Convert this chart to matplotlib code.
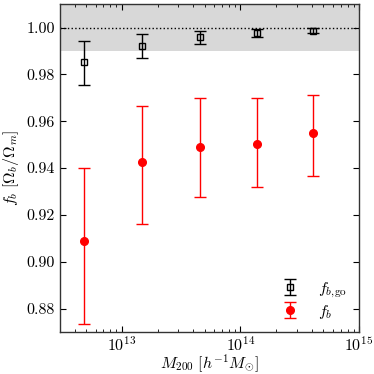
import matplotlib
matplotlib.use("Agg")
import matplotlib.pyplot as plt
from matplotlib.ticker import FixedLocator, LogLocator, NullLocator

plt.rcParams['font.family'] = ['cmr10', 'DejaVu Serif']
plt.rcParams['mathtext.fontset'] = 'cm'
plt.rcParams['axes.formatter.use_mathtext'] = True
plt.rcParams['font.size'] = 11.5

mass = [4.77e12, 1.49e13, 4.6e13, 1.37e14, 4.1e14]

fb_go = [0.9852, 0.9923, 0.9958, 0.9976, 0.9985]
fb_go_hi = [0.9944, 0.9972, 0.9985, 0.9993, 0.9996]
fb_go_lo = [0.9754, 0.9868, 0.9928, 0.9961, 0.9976]

fb = [0.9087, 0.9424, 0.9492, 0.9504, 0.9548]
fb_hi = [0.9399, 0.9665, 0.9699, 0.9699, 0.9710]
fb_lo = [0.8736, 0.9161, 0.9276, 0.9318, 0.9365]

yticks = [0.88, 0.90, 0.92, 0.94, 0.96, 0.98, 1.00]

fig = plt.figure(figsize=(3.74, 3.74), dpi=100)
ax = fig.add_axes([0.160, 0.112, 0.800, 0.877])

ax.axhspan(0.99, 1.01, color='#d8d8d8', lw=0, zorder=0)
ax.axhline(1.0, color='black', ls=':', lw=1.0, zorder=1)

go_err = [[v - l for v, l in zip(fb_go, fb_go_lo)], [h - v for v, h in zip(fb_go, fb_go_hi)]]
f_err = [[v - l for v, l in zip(fb, fb_lo)], [h - v for v, h in zip(fb, fb_hi)]]

ax.errorbar(mass, fb_go, yerr=go_err, fmt='s', mfc='none', mec='black', ms=5,
            mew=1.0, ecolor='black', elinewidth=1.0, capsize=4.5, capthick=1.0,
            label=r'$f_{b,\!\mathrm{go}}$', zorder=3)
ax.errorbar(mass, fb, yerr=f_err, fmt='o', color='red', ms=5.5,
            ecolor='red', elinewidth=1.0, capsize=4.5, capthick=1.0,
            label=r'$f_b$', zorder=3)

ax.set_xscale('log')
ax.set_xlim(3e12, 1e15)
ax.set_ylim(0.87, 1.01)
ax.yaxis.set_major_locator(FixedLocator(yticks))
ax.yaxis.set_minor_locator(NullLocator())
ax.set_yticklabels(['%.2f' % t for t in yticks])
ax.xaxis.set_major_locator(LogLocator(base=10, numticks=10))
ax.xaxis.set_minor_locator(LogLocator(base=10, subs=range(2, 10), numticks=20))

ax.tick_params(which='both', direction='in', top=True, right=True, colors='black')
ax.tick_params(which='major', length=4, width=0.8)
ax.tick_params(which='minor', length=2, width=0.6)
ax.tick_params(axis='x', which='major', pad=2)
ax.tick_params(axis='y', which='major', pad=3.5)
for s in ax.spines.values():
    s.set_color('#333333')
    s.set_linewidth(1.0)

ax.set_xlabel(r'$M_{200}\ [h^{-1}M_{\odot}]$', labelpad=-1)
ax.set_ylabel(r'$f_b\ [\Omega_b/\Omega_m]$', labelpad=4)

ax.legend(loc='lower right', frameon=False, handletextpad=0.9, handlelength=1.6,
          borderaxespad=0.2, labelspacing=0.2, bbox_to_anchor=(0.99, 0.005))

fig.savefig('out.png', dpi=100)
